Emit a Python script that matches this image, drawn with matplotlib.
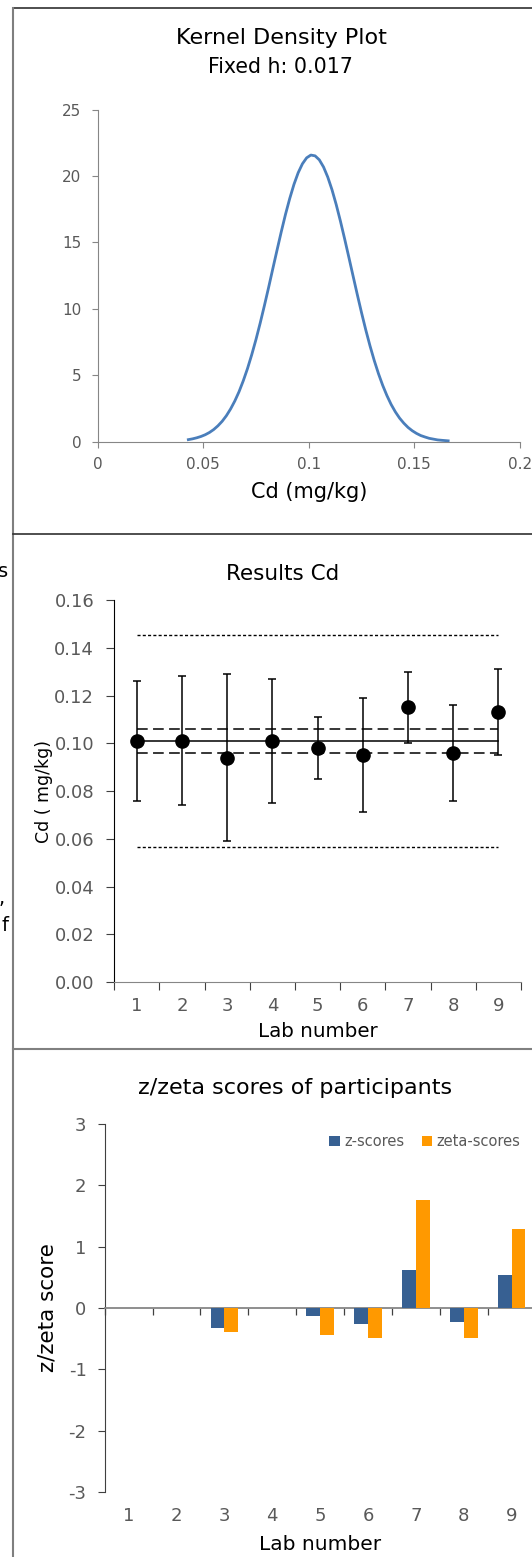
import matplotlib
matplotlib.use("Agg")
import numpy as np
import matplotlib.pyplot as plt
from matplotlib.lines import Line2D

plt.rcParams['font.family'] = ['DejaVu Sans']
plt.rcParams['axes.unicode_minus'] = False

# kernel density curve (h = 0.017)
kde_x = [0.043, 0.045, 0.047, 0.049, 0.051, 0.053, 0.055, 0.057, 0.059, 0.061,
         0.063, 0.065, 0.067, 0.069, 0.071, 0.073, 0.075, 0.077, 0.079, 0.081,
         0.083, 0.085, 0.087, 0.089, 0.091, 0.093, 0.095, 0.097, 0.099, 0.101,
         0.103, 0.105, 0.107, 0.109, 0.111, 0.113, 0.115, 0.117, 0.119, 0.121,
         0.123, 0.125, 0.127, 0.129, 0.131, 0.133, 0.135, 0.137, 0.139, 0.141,
         0.143, 0.145, 0.147, 0.149, 0.151, 0.153, 0.155, 0.157, 0.159, 0.161,
         0.163, 0.166]
kde_y = [0.14, 0.20, 0.28, 0.38, 0.51, 0.68, 0.90, 1.18, 1.52, 1.94,
         2.45, 3.05, 3.75, 4.57, 5.49, 6.53, 7.67, 8.91, 10.23, 11.60,
         13.02, 14.42, 15.80, 17.11, 18.30, 19.36, 20.24, 20.91, 21.36, 21.57,
         21.51, 21.21, 20.67, 19.91, 18.96, 17.84, 16.59, 15.25, 13.86, 12.45,
         11.05, 9.69, 8.40, 7.20, 6.10, 5.11, 4.23, 3.46, 2.79, 2.23,
         1.76, 1.38, 1.06, 0.81, 0.61, 0.45, 0.34, 0.24, 0.18, 0.12,
         0.09, 0.05]

# lab results
labs = [1, 2, 3, 4, 5, 6, 7, 8, 9]
results = [0.101, 0.101, 0.094, 0.101, 0.098, 0.095, 0.115, 0.096, 0.113]
uncert = [0.025, 0.027, 0.035, 0.026, 0.013, 0.024, 0.015, 0.020, 0.018]
assigned = 0.101
assigned_unc = 0.005
lower_limit = 0.0565
upper_limit = 0.1455

# scores
z_scores = [0.0, 0.0, -0.32, 0.0, -0.14, -0.27, 0.62, -0.23, 0.53]
zeta_scores = [0.0, 0.0, -0.40, 0.0, -0.44, -0.49, 1.76, -0.49, 1.28]

W, H = 532, 1557
fig = plt.figure(figsize=(W / 100, H / 100), dpi=100)

GREY = '#595959'
AXIS = '#868686'
DARK = '#404040'


def box(left, top, right, bottom):
    return [left / W, 1 - bottom / H, (right - left) / W, (bottom - top) / H]


def ftext(x, y, s, **kw):
    fig.text(x / W, 1 - y / H, s, **kw)


def fline(x0, y0, x1, y1, **kw):
    fig.add_artist(Line2D([x0 / W, x1 / W], [1 - y0 / H, 1 - y1 / H],
                          transform=fig.transFigure, **kw))


# page frame of the document
fline(13, 8, 532, 8, color='#303030', lw=1.2)
fline(13, 8, 13, 1557, color='#7f7f7f', lw=1.5)
fline(13, 534, 532, 534, color='#303030', lw=1.2)
fline(13, 1049, 532, 1049, color='#808080', lw=1.5)

# bits of document text sticking out on the left
ftext(8, 571, 's', ha='right', va='center', fontsize=14, color='black')
ftext(5, 898, ',', ha='right', va='center', fontsize=14, color='black')
ftext(8, 925, 'f', ha='right', va='center', fontsize=14, color='black')

# ---- panel 1: kernel density
ax1 = fig.add_axes(box(97.5, 109.5, 520, 441.5))
ax1.plot(kde_x, kde_y, color='#4a7ebb', lw=2)
ax1.set_xlim(0, 0.2)
ax1.set_ylim(0, 25)
ax1.set_xticks([0, 0.05, 0.1, 0.15, 0.2])
ax1.set_xticklabels(['0', '0.05', '0.1', '0.15', '0.2'])
ax1.set_yticks(range(0, 26, 5))
for s in ['top', 'right']:
    ax1.spines[s].set_visible(False)
for s in ['left', 'bottom']:
    ax1.spines[s].set_color(AXIS)
ax1.tick_params(direction='out', length=4.5, width=0.8, color=AXIS,
                labelcolor=GREY, labelsize=11, pad=7)
ax1.set_xlabel('Cd (mg/kg)', fontsize=15, labelpad=7)
ftext(281, 38, 'Kernel Density Plot', ha='center', va='center', fontsize=16)
ftext(280, 67, 'Fixed h: 0.017', ha='center', va='center', fontsize=14.8)

# ---- panel 2: results with uncertainties
ax2 = fig.add_axes(box(114.3, 600, 521, 982))
ax2.plot([labs[0], labs[-1]], [assigned, assigned], color='black', lw=1.1)
for v in [assigned + assigned_unc, assigned - assigned_unc]:
    ax2.plot([labs[0], labs[-1]], [v, v], color='black', lw=1.1, dashes=(7, 3.5))
for v in [upper_limit, lower_limit]:
    ax2.plot([labs[0], labs[-1]], [v, v], color='black', lw=1.0, dashes=(2.2, 1.6))
ax2.errorbar(labs, results, yerr=uncert, fmt='o', color='black', ms=9.5,
             capsize=2.8, elinewidth=1.1, capthick=1.1, zorder=5)
ax2.set_xlim(0.5, 9.5)
ax2.set_ylim(0, 0.16)
ax2.set_yticks(np.arange(0, 0.161, 0.02))
ax2.set_yticklabels(['%.2f' % v for v in np.arange(0, 0.161, 0.02)])
ax2.set_xticks(np.arange(0.5, 10, 1))
ax2.set_xticklabels([])
ax2.set_xticks(labs, minor=True)
ax2.set_xticklabels([str(l) for l in labs], minor=True)
for s in ['top', 'right']:
    ax2.spines[s].set_visible(False)
ax2.spines['left'].set_color('black')
ax2.spines['bottom'].set_color(AXIS)
ax2.tick_params(axis='y', direction='out', length=5.5, width=0.8, color=DARK,
                labelcolor=GREY, labelsize=13, pad=9)
ax2.tick_params(axis='x', which='major', direction='out', length=5.5,
                width=0.8, color=DARK)
ax2.tick_params(axis='x', which='minor', length=0, labelcolor=GREY,
                labelsize=13, pad=11)
ax2.set_xlabel('Lab number', fontsize=14.3, labelpad=5)
ax2.set_ylabel('Cd ( mg/kg)', fontsize=12.5, labelpad=1)
ftext(283, 574, 'Results Cd', ha='center', va='center', fontsize=15.5)

# ---- panel 3: z / zeta scores
ax3 = fig.add_axes(box(104.6, 1123.8, 535.7, 1492))
w = 0.285
x = np.array(labs)
ax3.bar(x - w / 2, z_scores, w, color='#376092', label='z-scores', zorder=3)
ax3.bar(x + w / 2, zeta_scores, w, color='#ff9900', label='zeta-scores', zorder=3)
ax3.set_xlim(0.5, 9.5)
ax3.set_ylim(-3, 3)
ax3.set_yticks(range(-3, 4))
ax3.spines['top'].set_visible(False)
ax3.spines['right'].set_visible(False)
ax3.spines['left'].set_color(DARK)
ax3.spines['bottom'].set_position(('data', 0))
ax3.spines['bottom'].set_color(AXIS)
ax3.spines['bottom'].set_linewidth(1.3)
ax3.set_xticks(np.arange(0.5, 10, 1))
ax3.set_xticklabels([])
ax3.tick_params(axis='x', direction='out', length=5, width=0.9, color=DARK)
ax3.tick_params(axis='y', direction='out', length=5, width=0.8, color=DARK,
                labelcolor=GREY, labelsize=13, pad=8)
sec = ax3.secondary_xaxis('bottom')
sec.set_xticks(labs)
sec.set_xticklabels([str(l) for l in labs])
sec.tick_params(length=0, labelcolor=GREY, labelsize=13, pad=11)
sec.spines['bottom'].set_visible(False)
sec.set_xlabel('Lab number', fontsize=14.5, labelpad=7)
ax3.set_ylabel('z/zeta score', fontsize=15.5, labelpad=8)
ax3.legend(loc='center right', bbox_to_anchor=(520 / W, 1 - 1141.6 / H),
           bbox_transform=fig.transFigure, ncol=2, frameon=False, fontsize=10.5,
           labelcolor=GREY, handlelength=0.7, handleheight=0.7,
           handletextpad=0.3, columnspacing=1.2, borderpad=0, borderaxespad=0)
ftext(295, 1088.5, 'z/zeta scores of participants', ha='center', va='center',
      fontsize=16)

fig.savefig('out.png', dpi=100)
